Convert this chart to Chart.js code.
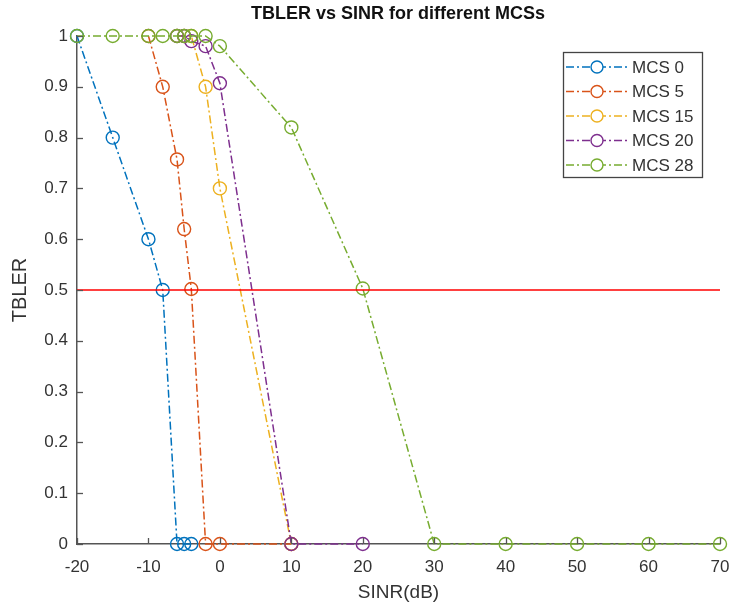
<!DOCTYPE html>
<html>
<head>
<meta charset="utf-8">
<script src="https://cdn.jsdelivr.net/npm/chart.js@4"></script>
<style>
  html, body { margin: 0; padding: 0; background: #ffffff; }
  #wrap { width: 729px; height: 610px; }
</style>
</head>
<body>
<div id="wrap"><canvas id="tblerChart" width="729" height="610"></canvas></div>
<script>
// data
const seriesNames = ['MCS 0', 'MCS 5', 'MCS 15', 'MCS 20', 'MCS 28'];
const mcs0X = [-20, -15, -10, -8, -6, -5, -4];
const mcs0Y = [1, 0.8, 0.6, 0.5, 0, 0, 0];
const mcs5X = [-10, -8, -6, -5, -4, -2, 0, 10];
const mcs5Y = [1, 0.9, 0.757, 0.62, 0.502, 0, 0, 0];
const mcs15X = [-6, -5, -4, -2, 0, 10];
const mcs15Y = [1, 1, 1, 0.9, 0.7, 0];
const mcs20X = [-6, -5, -4, -2, 0, 10, 20];
const mcs20Y = [1, 1, 0.99, 0.98, 0.907, 0, 0];
const mcs28X = [-20, -15, -10, -8, -6, -5, -4, -2, 0, 10, 20, 30, 40, 50, 60, 70];
const mcs28Y = [1, 1, 1, 1, 1, 1, 1, 1, 0.98, 0.82, 0.503, 0, 0, 0, 0, 0];
const thresholdX = [-20, 70];
const thresholdY = [0.5, 0.5];
const xTicks = [-20, -10, 0, 10, 20, 30, 40, 50, 60, 70];
const yTicks = [0, 0.1, 0.2, 0.3, 0.4, 0.5, 0.6, 0.7, 0.8, 0.9, 1];

const colors = ['#0072BD', '#D95319', '#EDB120', '#7E2F8E', '#77AC30'];
const dashDot = [8, 3, 2, 3];
const FONT = 'Helvetica, "Liberation Sans", Arial, sans-serif';
const AXIS = '#555555';
const TEXT = '#333333';

function pts(xs, ys) {
    return xs.map((x, i) => ({ x: x, y: ys[i] }));
}

const allX = [mcs0X, mcs5X, mcs15X, mcs20X, mcs28X];
const allY = [mcs0Y, mcs5Y, mcs15Y, mcs20Y, mcs28Y];

const datasets = seriesNames.map((name, i) => ({
    label: name,
    data: pts(allX[i], allY[i]),
    borderColor: colors[i],
    backgroundColor: 'rgba(0,0,0,0)',
    borderWidth: 1.5,
    borderDash: dashDot,
    pointStyle: 'circle',
    pointRadius: 6.5,
    pointBorderWidth: 1.4,
    pointBorderColor: colors[i],
    pointBackgroundColor: 'rgba(0,0,0,0)',
    tension: 0,
    clip: false,
    order: 4 - i
}));
datasets.push({
    label: 'threshold',
    data: pts(thresholdX, thresholdY),
    borderColor: '#FF0000',
    borderWidth: 1.6,
    pointRadius: 0,
    clip: false,
    order: -1
});

// title, inward tick marks and the boxed legend
const decorations = {
    id: 'decorations',
    afterDraw(chart) {
        const ctx = chart.ctx;
        const xs = chart.scales.x, ys = chart.scales.y;
        const area = chart.chartArea;
        ctx.save();
        ctx.strokeStyle = AXIS;
        ctx.lineWidth = 1.3;
        ctx.setLineDash([]);
        xTicks.forEach(v => {
            const px = Math.round(xs.getPixelForValue(v)) + 0.5;
            ctx.beginPath();
            ctx.moveTo(px, area.bottom);
            ctx.lineTo(px, area.bottom - 6);
            ctx.stroke();
        });
        yTicks.forEach(v => {
            const py = Math.round(ys.getPixelForValue(v)) + 0.5;
            ctx.beginPath();
            ctx.moveTo(area.left, py);
            ctx.lineTo(area.left + 6, py);
            ctx.stroke();
        });

        ctx.fillStyle = '#111111';
        ctx.font = 'bold 18px ' + FONT;
        ctx.textAlign = 'center';
        ctx.textBaseline = 'middle';
        ctx.fillText('TBLER vs SINR for different MCSs', 398, 14);

        // legend
        const bx = 563, by = 52, bw = 139, bh = 125;
        ctx.fillStyle = '#ffffff';
        ctx.fillRect(bx, by, bw, bh);
        ctx.strokeStyle = '#444444';
        ctx.lineWidth = 1.3;
        ctx.strokeRect(bx + 0.5, by + 0.5, bw, bh);
        ctx.font = '17px ' + FONT;
        ctx.textAlign = 'left';
        seriesNames.forEach((name, i) => {
            const ly = 67 + i * 24.5;
            ctx.strokeStyle = colors[i];
            ctx.lineWidth = 1.5;
            ctx.setLineDash(dashDot);
            ctx.beginPath();
            ctx.moveTo(566, ly);
            ctx.lineTo(628, ly);
            ctx.stroke();
            ctx.setLineDash([]);
            ctx.lineWidth = 1.4;
            ctx.fillStyle = '#ffffff';
            ctx.beginPath();
            ctx.arc(597, ly, 6, 0, Math.PI * 2);
            ctx.fill();
            ctx.stroke();
            ctx.fillStyle = TEXT;
            ctx.fillText(name, 632, ly + 1);
        });
        ctx.restore();
    }
};

const ctx = document.getElementById('tblerChart').getContext('2d');
const chart = new Chart(ctx, {
    type: 'line',
    data: { datasets: datasets },
    plugins: [decorations],
    options: {
        responsive: false,
        animation: false,
        layout: { padding: { left: 0, right: 9, top: 36, bottom: 0 } },
        plugins: {
            legend: { display: false },
            title: { display: false },
            tooltip: { enabled: false }
        },
        scales: {
            x: {
                type: 'linear',
                min: -20,
                max: 70,
                afterBuildTicks: s => { s.ticks = xTicks.map(v => ({ value: v })); },
                afterFit: s => { s.height = 66; s.paddingLeft = 0; s.paddingRight = 0; },
                border: { display: true, color: AXIS, width: 1.5 },
                grid: { display: false, drawTicks: false },
                ticks: {
                    color: TEXT,
                    font: { family: FONT, size: 17 },
                    padding: 13,
                    maxRotation: 0
                },
                title: {
                    display: true,
                    text: 'SINR(dB)',
                    color: TEXT,
                    font: { family: FONT, size: 19 },
                    padding: { top: 0, bottom: 6 }
                }
            },
            y: {
                type: 'linear',
                min: 0,
                max: 1,
                afterBuildTicks: s => { s.ticks = yTicks.map(v => ({ value: v })); },
                afterFit: s => { s.width = 77; s.paddingTop = 0; s.paddingBottom = 0; },
                border: { display: true, color: AXIS, width: 1.5 },
                grid: { display: false, drawTicks: false },
                ticks: {
                    color: TEXT,
                    font: { family: FONT, size: 17 },
                    padding: 9,
                    callback: v => String(Math.round(v * 10) / 10)
                },
                title: {
                    display: true,
                    text: 'TBLER',
                    color: TEXT,
                    font: { family: FONT, size: 20 },
                    padding: { top: 8, bottom: 0 }
                }
            }
        }
    }
});
</script>
</body>
</html>
